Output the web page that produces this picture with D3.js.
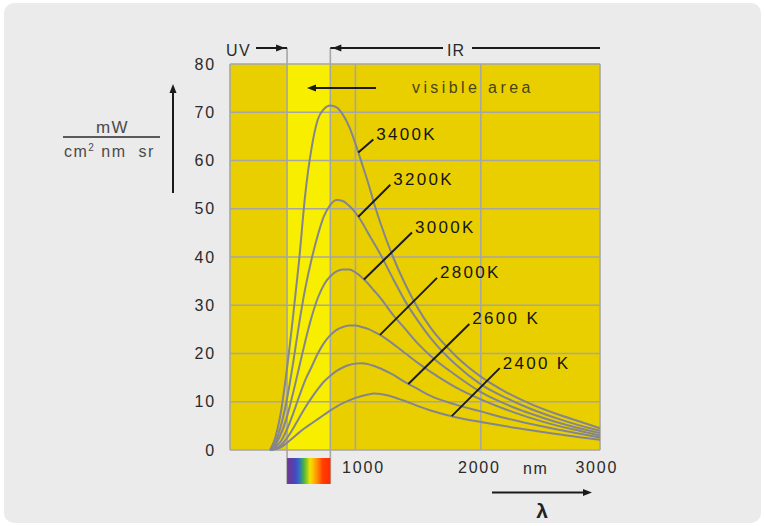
<!DOCTYPE html>
<html>
<head>
<meta charset="utf-8">
<script src="https://cdn.jsdelivr.net/npm/d3@7"></script>
<style>
  body { margin: 0; background: #fff; }
  text { font-family: "Liberation Sans", Arial, sans-serif; }
</style>
</head>
<body>
<div id="chart"></div>
<script>
// spectral radiance of a black body
// wavelength in nm, radiance in mW / (cm2 nm sr)
const wavelengths = [320, 360, 400, 450, 500, 550, 600, 650, 700, 750, 800, 850, 900, 950, 1000,
                     1050, 1100, 1150, 1200, 1300, 1400, 1500, 1600, 1800, 2000, 2200, 2400, 2600, 2800, 2950];
const k3400 = [0, 2.5, 7, 16, 27, 39, 53, 62.5, 68.5, 70.7, 71.4, 71.0, 69.5, 67, 63.5,
               59.5, 55.5, 51, 47, 40, 34.2, 29.3, 25.3, 19.5, 15.2, 12, 9.5, 7.5, 5.8, 4.5];
const k3200 = [0, 1.5, 4.5, 10, 17.5, 26, 33.5, 39.5, 44.5, 48.5, 50.8, 51.8, 51.6, 50.6, 49.2,
               47.3, 45, 42.8, 40.5, 35.5, 30.7, 26.7, 23.2, 17.7, 13.6, 10.8, 8.5, 6.6, 5.0, 4.0];
const k3000 = [0, 1, 3, 6.5, 11.5, 17, 22.5, 27.5, 31.5, 34.3, 36, 37, 37.4, 37.4, 36.8,
               35.8, 34.5, 33, 31.5, 28, 25, 22, 19.5, 15.5, 12, 9.5, 7.5, 5.8, 4.4, 3.5];
const k2800 = [0, 0.6, 1.6, 4, 7.3, 11, 14.5, 17.2, 20, 22.2, 23.8, 24.9, 25.5, 25.8, 25.8,
               25.5, 25.1, 24.5, 23.8, 22, 20, 18, 16.2, 13, 10.5, 8.4, 6.6, 5.1, 3.9, 3.0];
const k2600 = [0, 0.3, 0.9, 2.3, 4.3, 6.6, 8.8, 10.8, 12.6, 14.2, 15.4, 16.4, 17.1, 17.6, 17.9,
               18.0, 17.8, 17.4, 16.9, 15.6, 14.0, 12.6, 11.2, 9.4, 8.0, 6.6, 5.4, 4.3, 3.3, 2.6];
const k2400 = [0, 0.15, 0.5, 1.4, 2.5, 3.6, 4.6, 5.5, 6.4, 7.3, 8.2, 9.0, 9.7, 10.3, 10.8,
               11.2, 11.5, 11.7, 11.6, 11.0, 10.1, 9.1, 8.2, 6.8, 5.8, 4.9, 4.1, 3.3, 2.6, 2.1];

const curveNames = ["3400K", "3200K", "3000K", "2800K", "2600 K", "2400 K"];
const curveValues = [k3400, k3200, k3000, k2800, k2600, k2400];
// wavelength where the leader line of each label touches its curve
const labelWavelengths = [1023, 1023, 1068, 1196, 1422, 1768];

const yTicks = [0, 10, 20, 30, 40, 50, 60, 70, 80];
const xTicks = [1000, 2000, 3000];
const uvEdge = 455, irEdge = 800;   // borders of the visible band, nm

const W = 765, H = 526;
const svg = d3.select("#chart").append("svg")
    .attr("width", W)
    .attr("height", H);

// grey card behind everything
svg.append("rect")
    .attr("x", 4).attr("y", 3)
    .attr("width", 757).attr("height", 520)
    .attr("rx", 10)
    .attr("fill", "#ebebeb");

const x = d3.scaleLinear().domain([0, 2950]).range([230, 600]);
const y = d3.scaleLinear().domain([0, 80]).range([450, 64]);

const gridColor = "#a6a6a6";
const curveColor = "#85858d";

// rainbow for the spectrum bar
const defs = svg.append("defs");
const grad = defs.append("linearGradient").attr("id", "spectrum");
[["0%", "#6b3a98"], ["11%", "#5e3ca6"], ["20%", "#3d4fc0"], ["29%", "#3a6fc4"],
 ["37%", "#3cae4a"], ["45%", "#8cc820"], ["53%", "#f3e400"], ["63%", "#ffb000"],
 ["72%", "#ff8000"], ["82%", "#ff4000"], ["100%", "#ff2a00"]]
  .forEach(s => grad.append("stop").attr("offset", s[0]).attr("stop-color", s[1]));

// plot background + visible band
svg.append("rect")
    .attr("x", x(0)).attr("y", y(80))
    .attr("width", x(2950) - x(0)).attr("height", y(0) - y(80))
    .attr("fill", "#e9cf00");
svg.append("rect")
    .attr("x", x(uvEdge)).attr("y", y(80))
    .attr("width", x(irEdge) - x(uvEdge)).attr("height", y(0) - y(80))
    .attr("fill", "#f8ee00");

// grid
const grid = svg.append("g")
    .attr("stroke", gridColor)
    .attr("stroke-width", 1.6);
grid.selectAll("line.h")
    .data(yTicks)
    .enter().append("line")
    .attr("class", "h")
    .attr("x1", x(0)).attr("x2", x(2950))
    .attr("y1", d => y(d)).attr("y2", d => y(d));
grid.selectAll("line.v")
    .data([0, 1000, 2000, 2950])
    .enter().append("line")
    .attr("class", "v")
    .attr("x1", d => x(d)).attr("x2", d => x(d))
    .attr("y1", y(80)).attr("y2", y(0));

// spectrum bar under the visible band
svg.append("rect")
    .attr("x", x(uvEdge)).attr("y", 458)
    .attr("width", x(irEdge) - x(uvEdge)).attr("height", 26)
    .attr("fill", "url(#spectrum)");

// UV / IR border lines, from the arrows above down to the spectrum bar
grid.selectAll("line.edge")
    .data([uvEdge, irEdge])
    .enter().append("line")
    .attr("class", "edge")
    .attr("x1", d => x(d)).attr("x2", d => x(d))
    .attr("y1", 48).attr("y2", 484);

// curves
const line = d3.line()
    .x((d, i) => x(wavelengths[i]))
    .y(d => y(d))
    .curve(d3.curveMonotoneX);

svg.append("g")
    .selectAll("path")
    .data(curveValues)
    .enter().append("path")
    .attr("d", line)
    .attr("fill", "none")
    .attr("stroke", curveColor)
    .attr("stroke-width", 2);

// value of a curve at some wavelength, only used to place the leader lines
const valueAt = function(values, w) {
    const i = d3.bisectLeft(wavelengths, w);
    const t = (w - wavelengths[i - 1]) / (wavelengths[i] - wavelengths[i - 1]);
    return values[i - 1] + t * (values[i] - values[i - 1]);
};

// pixel offset from the curve to the top end of each leader line
const leaderOffsets = [[15, -13], [32, -32], [48, -47], [57, -57], [61, -60], [48, -48]];

const labels = svg.append("g");
curveNames.forEach((name, i) => {
    const x0 = x(labelWavelengths[i]);
    const y0 = y(valueAt(curveValues[i], labelWavelengths[i]));
    const x1 = x0 + leaderOffsets[i][0];
    const y1 = y0 + leaderOffsets[i][1];
    labels.append("line")
        .attr("x1", x0).attr("y1", y0)
        .attr("x2", x1).attr("y2", y1)
        .attr("stroke", "#1a1a1a")
        .attr("stroke-width", 2);
    labels.append("text")
        .attr("x", x1 + 3)
        .attr("y", y1 + 0.5)
        .attr("font-size", 17)
        .attr("letter-spacing", "2.3px")
        .attr("fill", "#151515")
        .text(name);
});

// axes
const yAxis = svg.append("g")
    .attr("transform", `translate(${x(0)},0)`)
    .call(d3.axisLeft(y).tickValues(yTicks).tickSize(0).tickPadding(14));
const xAxis = svg.append("g")
    .attr("transform", `translate(0,${y(0)})`)
    .call(d3.axisBottom(x).tickValues(xTicks).tickFormat(d3.format("d")).tickSize(0).tickPadding(12));
[yAxis, xAxis].forEach(a => {
    a.select(".domain").remove();
    a.attr("font-family", null).attr("font-size", null);
    a.selectAll("text")
        .attr("font-size", 16)
        .attr("letter-spacing", "1.8px")
        .attr("fill", "#2a2a2a");
});
// the printed labels sit a little off their grid lines
const xLabelShift = {1000: 7.5, 2000: -2, 3000: -10};
xAxis.selectAll("text").attr("dx", d => xLabelShift[d]);

svg.append("text")
    .attr("x", 523).attr("y", 473.5)
    .attr("font-size", 16)
    .attr("letter-spacing", "1.6px")
    .attr("fill", "#2a2a2a")
    .text("nm");

// arrow helper: tip at (tx, ty), direction given as unit vector
const arrowHead = function(tx, ty, dx, dy) {
    const len = 9, half = 3.5;
    const bx = tx - dx * len, by = ty - dy * len;
    const px = -dy * half, py = dx * half;
    svg.append("path")
        .attr("d", `M${tx},${ty}L${bx + px},${by + py}L${bx - px},${by - py}Z`)
        .attr("fill", "#1a1a1a");
};
const arrowLine = function(x1, y1, x2, y2) {
    svg.append("line")
        .attr("x1", x1).attr("y1", y1)
        .attr("x2", x2).attr("y2", y2)
        .attr("stroke", "#1a1a1a")
        .attr("stroke-width", 2);
};

// UV and IR marks above the plot
svg.append("text")
    .attr("x", 226).attr("y", 55.5)
    .attr("font-size", 16).attr("letter-spacing", "1.5px")
    .attr("fill", "#2a2a2a")
    .text("UV");
arrowLine(256, 48, x(uvEdge), 48);
arrowHead(x(uvEdge) - 2, 48, 1, 0);

svg.append("text")
    .attr("x", 447).attr("y", 55.5)
    .attr("font-size", 16).attr("letter-spacing", "1px")
    .attr("fill", "#2a2a2a")
    .text("IR");
arrowLine(x(irEdge), 48, 443, 48);
arrowLine(472, 48, x(2950), 48);
arrowHead(x(irEdge) + 2, 48, -1, 0);

// visible area note
svg.append("text")
    .attr("x", 412).attr("y", 93)
    .attr("font-size", 16)
    .attr("letter-spacing", "3.4px")
    .attr("fill", "#4a4515")
    .text("visible area");
arrowLine(376, 88, 314, 88);
arrowHead(307, 88, -1, 0);

// y unit as a fraction
svg.append("text")
    .attr("x", 112.5).attr("y", 132.5)
    .attr("text-anchor", "middle")
    .attr("font-size", 17).attr("letter-spacing", "1.5px")
    .attr("fill", "#4a4a4a")
    .text("mW");
svg.append("line")
    .attr("x1", 63).attr("x2", 160)
    .attr("y1", 137).attr("y2", 137)
    .attr("stroke", "#5a5a5a").attr("stroke-width", 2);
const unit = svg.append("text")
    .attr("x", 64).attr("y", 156.5)
    .attr("font-size", 16).attr("letter-spacing", "1.5px")
    .attr("fill", "#4a4a4a")
    .attr("xml:space", "preserve");
unit.append("tspan").text("cm");
unit.append("tspan").attr("font-size", 10).attr("dy", -6).text("2");
unit.append("tspan").attr("dy", 6).text(" nm  sr");

arrowLine(173, 193, 173, 92);
arrowHead(173, 84, 0, -1);

// wavelength arrow and lambda
arrowLine(492, 492.5, 584, 492.5);
arrowHead(592, 492.5, 1, 0);
svg.append("text")
    .attr("x", 542).attr("y", 518)
    .attr("text-anchor", "middle")
    .attr("font-family", "'Liberation Serif', 'DejaVu Serif', serif")
    .attr("font-weight", "bold")
    .attr("font-size", 21)
    .attr("fill", "#222")
    .text("λ");
</script>
</body>
</html>
